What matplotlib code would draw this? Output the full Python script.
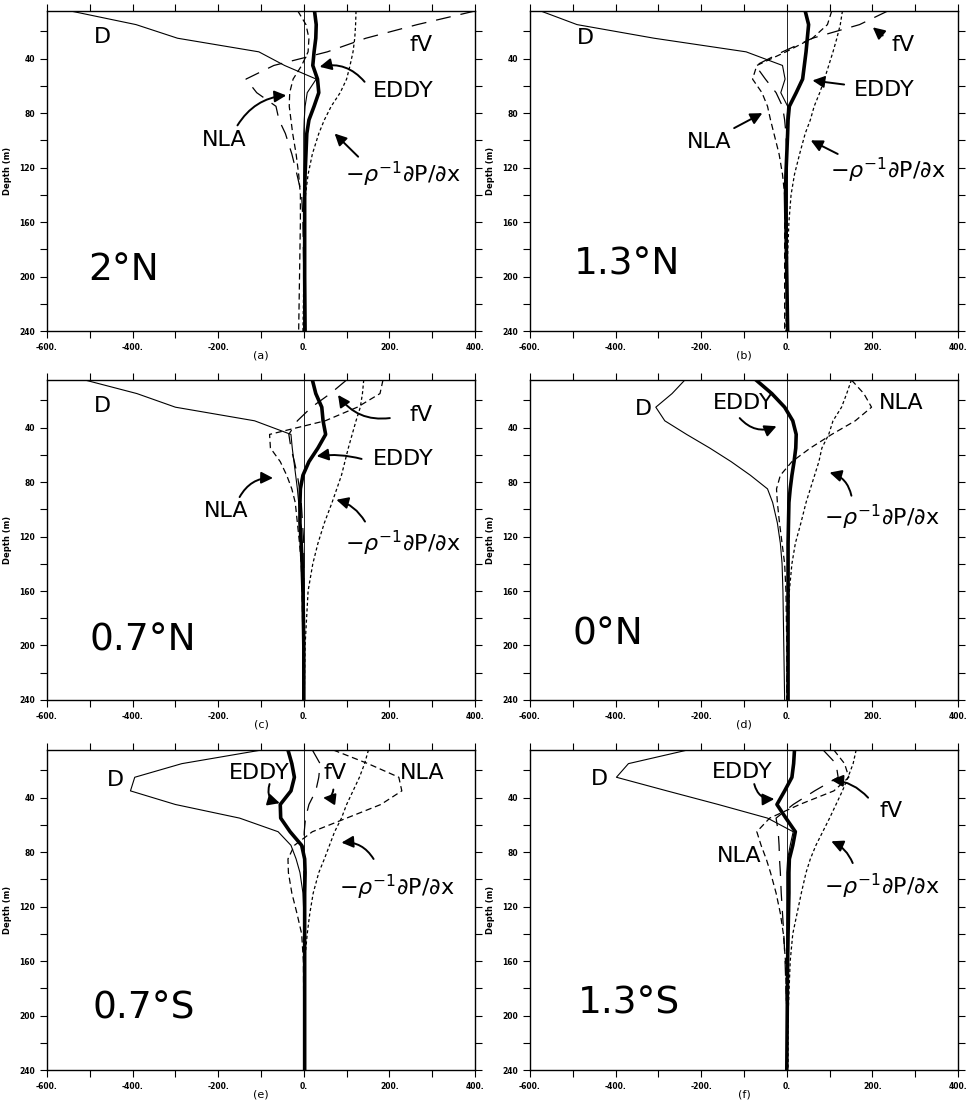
import numpy as np
import matplotlib.pyplot as plt
from matplotlib.ticker import FixedLocator, FuncFormatter

# depth levels (m)
depth = [5, 15, 25, 35, 45, 55, 65, 75, 85, 95, 110, 125, 140, 160, 200, 240]

# (a) 2N
D_a    = [-545, -392, -295, -105, -45, 29, 8, 3, 1, 0, 0, 0, 0, 0, 0, 0]
EDDY_a = [25, 29, 28, 24, 21, 32, 35, 24, 12, 7, 5, 3, 2, 2, 2, 3]
PG_a   = [122, 121, 119, 115, 108, 100, 85, 64, 48, 35, 20, 10, 4, 2, 0, -2]
NLA_a  = [-14, 5, 12, 10, -5, -25, -33, -34, -30, -26, -18, -12, -8, -8, -10, -12]
FV_a   = [400, 265, 145, 55, -70, -135, -110, -65, -58, -43, -28, -16, -5, -2, 0, 0]

# (b) 1.3N
D_b    = [-575, -490, -310, -95, -10, -4, -14, 2, 0, 0, 0, 0, 0, 0, 0, 0]
EDDY_b = [43, 51, 48, 45, 41, 37, 22, 6, 3, 2, 0, -2, -3, -2, 0, 2]
PG_b   = [130, 125, 117, 108, 98, 88, 77, 64, 55, 43, 30, 18, 10, 5, 0, -2]
NLA_b  = [105, 95, 60, -2, -70, -80, -58, -45, -38, -30, -18, -10, -5, -5, -5, -5]
FV_b   = [236, 170, 60, -10, -73, -50, -25, -10, -5, -2, 0, 0, 0, 0, 0, 0]

# (c) 0.7N
D_c    = [-512, -390, -300, -115, -30, -27, -23, -19, -15, -12, -8, -5, -3, -1, 0, 0]
EDDY_c = [20, 28, 42, 45, 51, 33, 12, -2, -8, -9, -9, -6, -4, -2, 0, 0]
PG_c   = [140, 137, 132, 122, 113, 104, 96, 88, 77, 66, 48, 33, 21, 10, 3, 1]
NLA_c  = [185, 178, 125, 50, -80, -78, -55, -40, -28, -20, -15, -10, -6, -4, -2, -2]
FV_c   = [100, 62, 18, -15, -35, -30, -22, -15, -10, -6, -3, 0, 0, 0, 0, 0]

# (d) 0N
D_d    = [-238, -268, -306, -285, -234, -180, -130, -85, -45, -33, -22, -15, -11, -9, -7, -5]
EDDY_d = [-72, -35, -5, 14, 22, 21, 17, 12, 8, 5, 4, 3, 3, 3, 3, 3]
PG_d   = [151, 140, 128, 108, 98, 82, 75, 65, 55, 45, 33, 20, 12, 6, 2, 0]
NLA_d  = [151, 180, 198, 160, 105, 55, 12, -15, -24, -22, -17, -11, -5, -2, 0, 0]

# (e) 0.7S
D_e    = [-99, -285, -395, -405, -300, -150, -60, -30, -18, -9, -2, 0, 0, 0, 0, 0]
EDDY_e = [-37, -28, -22, -30, -55, -54, -32, -5, 2, 3, 2, 2, 2, 2, 2, 2]
PG_e   = [151, 142, 130, 115, 100, 88, 72, 60, 48, 35, 22, 14, 8, 2, 0, 0]
NLA_e  = [69, 150, 222, 229, 180, 100, 20, -22, -37, -36, -28, -16, -5, -1, 0, 0]
FV_e   = [20, 38, 35, 28, 12, 4, 1, 0, 0, 0, 0, 0, 0, 0, 0, 0]

# (f) 1.3S
D_f    = [-232, -370, -398, -280, -160, -45, 15, 8, 2, 0, 0, 0, 0, 0, 0, 0]
EDDY_f = [18, 16, 12, -5, -23, -2, 20, 14, 6, 5, 5, 4, 3, 2, 1, 0]
PG_f   = [162, 155, 143, 130, 115, 100, 84, 68, 55, 45, 34, 24, 14, 8, 3, 3]
NLA_f  = [110, 135, 145, 110, 30, -40, -70, -60, -48, -38, -25, -15, -8, -3, 0, 0]
FV_f   = [85, 115, 120, 65, 15, -25, -20, -18, -17, -15, -13, -10, -7, -4, 0, 0]

PGTXT = r'$-\rho^{-1}\partial \mathrm{P}/\partial \mathrm{x}$'

# label, text pos, arrow tail, arrow tip, rad
lab_a = [("D", (-470, 24), None, None, 0),
         ("fV", (275, 30), None, None, 0),
         ("EDDY", (232, 64), (142, 57), (37, 46), 0.3),
         ("NLA", (-186, 100), (-155, 89), (-41, 67), -0.25),
         (PGTXT, (232, 125), (127, 112), (72, 95), 0)]
lab_b = [("D", (-471, 25), None, None, 0),
         ("fV", (271, 30), (224, 23), (201, 17), 0),
         ("EDDY", (228, 63), (134, 59), (60, 56), 0),
         ("NLA", (-182, 101), (-123, 91), (-57, 80), 0),
         (PGTXT, (236, 122), (119, 110), (56, 100), 0)]
lab_c = [("D", (-470, 24), None, None, 0),
         ("fV", (275, 31), (201, 33), (80, 16), -0.3),
         ("EDDY", (232, 63), (135, 63), (30, 61), 0.1),
         ("NLA", (-181, 101), (-150, 91), (-72, 77), -0.3),
         (PGTXT, (232, 125), (143, 109), (76, 93), 0.2)]
lab_d = [("D", (-335, 26), None, None, 0),
         ("EDDY", (-102, 22), (-110, 33), (-24, 39), 0.35),
         ("NLA", (268, 22), None, None, 0),
         (PGTXT, (221, 106), (151, 90), (100, 73), 0.3)]
lab_e = [("D", (-440, 27), None, None, 0),
         ("EDDY", (-103, 22), (-80, 30), (-56, 44), 0.5),
         ("fV", (73, 22), (69, 34), (45, 40), -0.5),
         ("NLA", (276, 22), None, None, 0),
         (PGTXT, (218, 106), (163, 85), (88, 73), 0.3)]
lab_f = [("D", (-438, 26), None, None, 0),
         ("EDDY", (-103, 21), (-76, 30), (-29, 41), 0.4),
         ("fV", (244, 50), (190, 40), (104, 27), 0.2),
         ("NLA", (-111, 83), None, None, 0),
         (PGTXT, (221, 105), (154, 88), (104, 72), 0.2)]

panels = [
    ("2°N", "(a)", D_a, EDDY_a, PG_a, NLA_a, FV_a, lab_a, (-420, 195)),
    ("1.3°N", "(b)", D_b, EDDY_b, PG_b, NLA_b, FV_b, lab_b, (-373, 191)),
    ("0.7°N", "(c)", D_c, EDDY_c, PG_c, NLA_c, FV_c, lab_c, (-376, 196)),
    ("0°N", "(d)", D_d, EDDY_d, PG_d, NLA_d, None, lab_d, (-417, 192)),
    ("0.7°S", "(e)", D_e, EDDY_e, PG_e, NLA_e, FV_e, lab_e, (-373, 195)),
    ("1.3°S", "(f)", D_f, EDDY_f, PG_f, NLA_f, FV_f, lab_f, (-368, 191)),
]

fig = plt.figure(figsize=(9.71, 11.10), dpi=100)
lefts = [0.0484, 0.5458]
bottoms = [0.7018, 0.3694, 0.036]
w, h = 0.4408, 0.2883

for i, (lat, tag, D, EDDY, PG, NLA, FV, labs, latpos) in enumerate(panels):
    ax = fig.add_axes([lefts[i % 2], bottoms[i // 2], w, h])
    ax.axvline(0, color='k', lw=0.6)
    ax.plot(D, depth, color='k', lw=0.8)
    ax.plot(EDDY, depth, color='k', lw=2.6)
    ax.plot(PG, depth, color='k', lw=0.9, ls=(0, (2.5, 2)))
    ax.plot(NLA, depth, color='k', lw=0.9, ls=(0, (5, 3)))
    if FV is not None:
        ax.plot(FV, depth, color='k', lw=0.9, ls=(0, (12, 8)))

    ax.set_xlim(-600, 400)
    ax.set_ylim(240, 5)
    ax.xaxis.set_major_locator(FixedLocator([-600, -400, -200, 0, 200, 400]))
    ax.xaxis.set_minor_locator(FixedLocator([-500, -300, -100, 100, 300]))
    ax.xaxis.set_major_formatter(FuncFormatter(lambda v, p: f"{v:.0f}."))
    ax.yaxis.set_major_locator(FixedLocator([40, 80, 120, 160, 200, 240]))
    ax.yaxis.set_minor_locator(FixedLocator([20, 60, 100, 140, 180, 220]))
    ax.tick_params(which='both', direction='out', top=True, right=True,
                   length=5, width=0.8, labelsize=5.5)
    for t in ax.get_xticklabels() + ax.get_yticklabels():
        t.set_fontweight('bold')
    ax.set_ylabel("Depth (m)", fontsize=6, fontweight='bold', labelpad=5)
    ax.set_xlabel(tag, fontsize=8, labelpad=-1)
    for s in ax.spines.values():
        s.set_linewidth(1.0)

    for txt, pos, tail, tip, rad in labs:
        ax.text(pos[0], pos[1], txt, fontsize=16, ha='center', va='center')
        if tail is not None:
            ax.annotate('', xy=tip, xytext=tail,
                        arrowprops=dict(arrowstyle='-|>,head_length=0.7,head_width=0.35',
                                        connectionstyle=f'arc3,rad={rad}',
                                        color='k', lw=1.4, shrinkA=0, shrinkB=0))
    ax.text(latpos[0], latpos[1], lat, fontsize=27, ha='center', va='center')

fig.savefig("out.png", dpi=100)
